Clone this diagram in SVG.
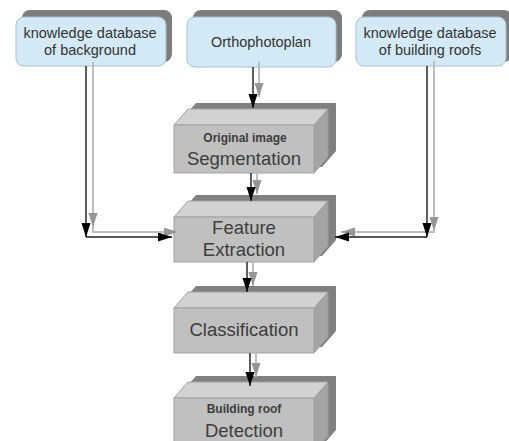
<svg xmlns="http://www.w3.org/2000/svg" xmlns:xlink="http://www.w3.org/1999/xlink" width="509" height="441" viewBox="0 0 509 441">
<style>
.bg{fill:#ffffff}
.bshadow{fill:#7d7d7d}
.bbox{fill:#d3e9f6;stroke:#a8c0cf;stroke-width:1}
.btxt{font-family:"Liberation Sans",Arial,sans-serif;font-size:14.5px;fill:#333333;text-anchor:middle}
.shadow{fill:#808080}
.front{fill:#c0c0c0;stroke:#a2a2a2;stroke-width:1}
.topf{fill:#d2d2d2;stroke:#a2a2a2;stroke-width:1}
.side{fill:#a4a4a4;stroke:#999999;stroke-width:1}
.big{font-family:"Liberation Sans",Arial,sans-serif;font-size:18.5px;fill:#3d3d3d;text-anchor:middle}
.small{font-family:"Liberation Sans",Arial,sans-serif;font-size:12px;font-weight:bold;fill:#3d3d3d;text-anchor:middle}
.lk{fill:none;stroke:#1a1a1a;stroke-width:1.4}
.lg{fill:none;stroke:#bdbdbd;stroke-width:2}
</style>
<defs>
<marker id="ak" markerUnits="userSpaceOnUse" markerWidth="15" markerHeight="10" refX="14" refY="4.5" orient="auto" viewBox="0 0 15 10">
<path d="M0,0 L14,4.5 L0,9 z" fill="#000000"/>
</marker>
<marker id="ag" markerUnits="userSpaceOnUse" markerWidth="15" markerHeight="10" refX="14" refY="4.5" orient="auto" viewBox="0 0 15 10">
<path d="M0,0 L14,4.5 L0,9 z" fill="#969696"/>
</marker>
</defs>
<rect class="bg" x="0" y="0" width="509" height="441"/>

<g id="kb-background">
<rect class="bshadow" x="22" y="10" width="150" height="52" rx="8"/>
<rect class="bbox" x="16" y="17" width="150" height="49" rx="8"/>
<text class="btxt" x="90" y="38">knowledge database</text>
<text class="btxt" x="90" y="55">of background</text>
</g>

<g id="orthophotoplan">
<rect class="bshadow" x="193" y="10" width="149" height="52" rx="8"/>
<rect class="bbox" x="187" y="17" width="149" height="50" rx="8"/>
<text class="btxt" x="261" y="47">Orthophotoplan</text>
</g>

<g id="kb-roofs">
<rect class="bshadow" x="362" y="10" width="150" height="52" rx="8"/>
<rect class="bbox" x="356" y="17" width="150" height="49" rx="8"/>
<text class="btxt" x="430" y="38">knowledge database</text>
<text class="btxt" x="430" y="55">of building roofs</text>
</g>

<g id="segmentation">
<polygon class="shadow" points="182,119 196,103 336,103 336,151 322,167 182,167"/>
<polygon class="side" points="314,125 328,109 328,157 314,173"/>
<polygon class="topf" points="174,125 188,109 328,109 314,125"/>
<rect class="front" x="174" y="125" width="140" height="48"/>
<text class="small" x="245" y="142">Original image</text>
<text class="big" x="244" y="165">Segmentation</text>
</g>

<g id="feature-extraction">
<polygon class="shadow" points="182,211 196,195 336,195 336,240 322,256 182,256"/>
<polygon class="side" points="314,217 328,201 328,246 314,262"/>
<polygon class="topf" points="174,217 188,201 328,201 314,217"/>
<rect class="front" x="174" y="217" width="140" height="45"/>
<text class="big" x="244" y="234">Feature</text>
<text class="big" x="244" y="256">Extraction</text>
</g>

<g id="classification">
<polygon class="shadow" points="182,302 196,286 336,286 336,331 322,347 182,347"/>
<polygon class="side" points="314,308 328,292 328,337 314,353"/>
<polygon class="topf" points="174,308 188,292 328,292 314,308"/>
<rect class="front" x="174" y="308" width="140" height="45"/>
<text class="big" x="244" y="336">Classification</text>
</g>

<g id="detection">
<polygon class="shadow" points="182,392 196,376 336,376 336,430 322,446 182,446"/>
<polygon class="side" points="314,398 328,382 328,436 314,452"/>
<polygon class="topf" points="174,398 188,382 328,382 314,398"/>
<rect class="front" x="174" y="398" width="140" height="54"/>
<text class="small" x="244" y="413">Building roof</text>
<text class="big" x="244" y="437">Detection</text>
</g>

<g id="connectors">
<!-- gray shadow lines -->
<path class="lg" d="M93,62 V227" marker-end="url(#ag)"/>
<path class="lg" d="M93,226 V232 H178" marker-end="url(#ag)"/>
<path class="lg" d="M434,61 V231" marker-end="url(#ag)"/>
<path class="lg" d="M434,230 V232 H341" marker-end="url(#ag)"/>
<path class="lg" d="M259,62 V97" marker-end="url(#ag)"/>
<path class="lg" d="M257,167 V194" marker-end="url(#ag)"/>
<path class="lg" d="M253,256 V286" marker-end="url(#ag)"/>
<path class="lg" d="M256,347 V377" marker-end="url(#ag)"/>
<!-- black lines -->
<path class="lk" d="M86,66 V237" marker-end="url(#ak)"/>
<path class="lk" d="M86,237 H172" marker-end="url(#ak)"/>
<path class="lk" d="M427,66 V237" marker-end="url(#ak)"/>
<path class="lk" d="M427,237 H335" marker-end="url(#ak)"/>
<path class="lk" d="M253,67 V108" marker-end="url(#ak)"/>
<path class="lk" d="M251,173 V201" marker-end="url(#ak)"/>
<path class="lk" d="M247,262 V292" marker-end="url(#ak)"/>
<path class="lk" d="M250,353 V386" marker-end="url(#ak)"/>
</g>
</svg>
